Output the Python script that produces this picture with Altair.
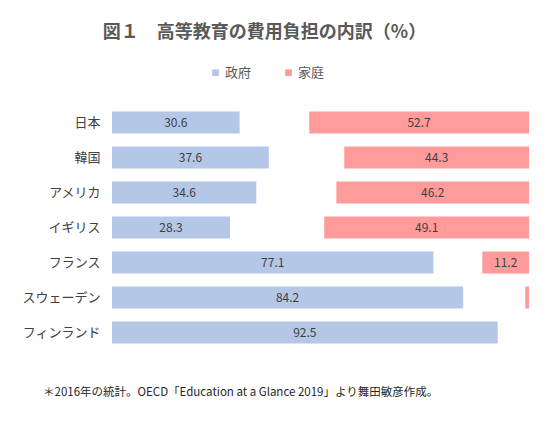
import pandas as pd
import altair as alt

# values (% of tertiary spending)
countries = ["日本", "韓国", "アメリカ", "イギリス", "フランス", "スウェーデン", "フィンランド"]
gov = [30.6, 37.6, 34.6, 28.3, 77.1, 84.2, 92.5]
fam = [52.7, 44.3, 46.2, 49.1, 11.2, 0.9, 0.0]
series = ["政府", "家庭"]

_BLUE = "#b4c7e7"
_PINK = "#ff9b9b"
_INK = "#404040"
_TITLE = "#595959"
_FONT = "Noto Sans CJK JP"

rows = []
for c, g, f in zip(countries, gov, fam):
    rows.append({"country": c, "who": series[0], "v": g})
    rows.append({"country": c, "who": series[1], "v": f})
df = pd.DataFrame(rows)

# government grows from the left edge, households from the right edge
base = alt.Chart(df).transform_calculate(
    x0="datum.who == '政府' ? 0 : 100 - datum.v",
    x1="datum.who == '政府' ? datum.v : 100",
    xm="datum.who == '政府' ? datum.v / 2 : 100 - datum.v / 2",
)

y_enc = alt.Y("country:N", sort=countries, title=None,
              scale=alt.Scale(paddingInner=0.37, paddingOuter=0.185),
              axis=alt.Axis(domain=False, ticks=False, labelPadding=12,
                            labelFontSize=13, labelColor=_INK, labelFont=_FONT))
x_scale = alt.Scale(domain=[0, 100], nice=False)

bars = base.mark_bar().encode(
    x=alt.X("x0:Q", scale=x_scale, axis=None),
    x2="x1:Q",
    y=y_enc,
    color=alt.Color("who:N", sort=series, title=None,
                    scale=alt.Scale(domain=series, range=[_BLUE, _PINK]),
                    legend=alt.Legend(orient="none", direction="horizontal",
                                      legendX=97, legendY=-39, symbolType="square",
                                      symbolSize=45, symbolStrokeWidth=0,
                                      labelFontSize=13, labelColor=_TITLE,
                                      labelFont=_FONT, columnPadding=30,
                                      symbolOffset=0, labelOffset=3)),
)

labels = base.transform_filter("datum.v >= 5").mark_text(
    fontSize=12, color=_INK, font=_FONT).encode(
    x=alt.X("xm:Q", scale=x_scale, axis=None),
    y=alt.Y("country:N", sort=countries),
    text=alt.Text("v:Q", format=".1f"),
)

note = alt.Chart(pd.DataFrame({"t": ["＊2016年の統計。OECD「Education at a Glance 2019」より舞田敏彦作成。"]})).mark_text(
    align="left", baseline="middle", fontSize=11.5, color="#262626", font=_FONT).encode(
    x=alt.value(-69), y=alt.value(288), text="t:N")

chart = (bars + labels + note).properties(
    width=417, height=245,
    autosize=alt.AutoSizeParams(type="none"),
    padding={"left": 104, "top": 97, "right": 13, "bottom": 66},
    title=alt.TitleParams("図１　高等教育の費用負担の内訳（%）", fontSize=18,
                          fontWeight="bold", color=_TITLE, font=_FONT,
                          anchor="middle", dx=-56, offset=24),
).configure_view(stroke=None)

chart.save("out.html", embed_options={"renderer": "svg", "actions": False})
